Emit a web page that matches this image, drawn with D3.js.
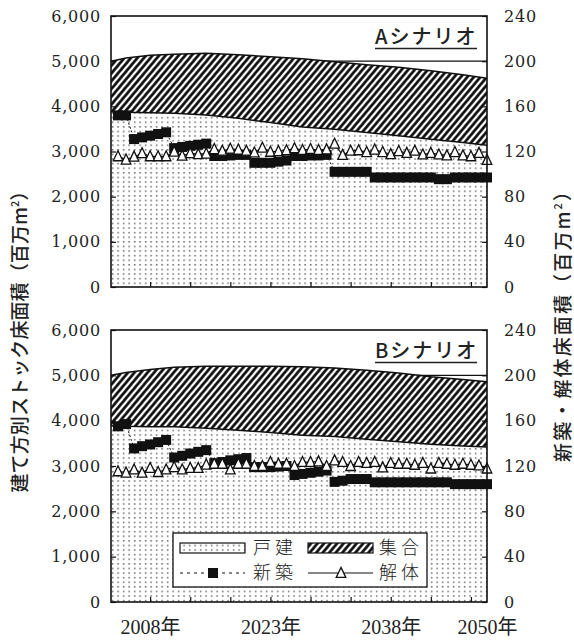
<!DOCTYPE html>
<html>
<head>
<meta charset="utf-8">
<script src="https://cdn.jsdelivr.net/npm/d3@7"></script>
<style>
  body { margin: 0; background: #fff; }
</style>
</head>
<body>
<div id="chart"></div>
<script>
// years of the annual series (new construction / demolition)
const years = d3.range(2004, 2051);

// 新築 and 解体 floor area, 百万m2 (right axis)
const newA = [152, 152, 131, 132.5, 134, 135.5, 137, 123, 124, 125, 126, 127,
  116, 116, 116.5, 117, 117, 110, 110, 110, 111, 112, 116, 116, 116.5, 116.5, 117,
  102, 102, 102, 102, 102, 97, 97, 97, 97, 97, 97, 97, 97, 95.5, 95.5,
  97, 97, 97, 97, 97];
const demoA = [115.7, 112.8, 115.4, 118.4, 115.7, 115.7, 115.7, 119.8, 116.2, 118.4, 117.6, 118.1,
  122.1, 120.6, 122.4, 121.6, 120.6, 119.1, 123.3, 119.7, 120.3, 121.0, 122.8, 121.3, 122.2, 121.3, 121.8,
  126.8, 116.9, 120.6, 121.0, 119.4, 121.6, 119.4, 117.6, 120.3, 118.7, 120.6, 117.3, 118.7, 117.3, 116.5,
  119.4, 116.5, 115.7, 118.7, 112.5];
const newB = [155, 157, 135.5, 137.5, 139, 141, 143, 127.5, 129, 131, 132.5, 134,
  122.5, 123.5, 125, 126, 127, 119, 119, 119, 119.5, 120, 112, 113, 114, 115, 116,
  106, 107, 108.5, 108.5, 108.5, 105.6, 105.6, 105.6, 105.6, 105.6, 105.6, 105.6, 105.6, 105.6, 105.6,
  104, 104, 104, 104, 104];
const demoB = [115.3, 114.1, 116.9, 114.0, 118.2, 114.6, 116.9, 119.0, 116.9, 118.2, 118.2, 121.2,
  121.9, 121.9, 116.9, 121.9, 121.9, 119.9, 119.9, 123.5, 121.9, 121.9, 119.9, 123.5, 123.5, 124.0, 119.9,
  124.9, 123.5, 119.9, 123.5, 122.6, 123.5, 118.7, 122.6, 121.9, 121.9, 121.0, 122.6, 117.7, 122.6, 121.9,
  121.0, 121.9, 121.0, 120.4, 117.7];

// stock floor area by building type, 百万m2 (left axis)
const stockYears = [2003, 2005, 2008, 2011, 2015, 2019, 2023, 2027, 2031, 2035, 2039, 2043, 2047, 2050];
const detachedA = [3880, 3870, 3860, 3845, 3810, 3735, 3640, 3540, 3495, 3420, 3350, 3270, 3200, 3140];
const collectiveA = [1120, 1200, 1270, 1310, 1365, 1405, 1460, 1515, 1490, 1500, 1515, 1520, 1500, 1480];
const detachedB = [3890, 3875, 3867, 3865, 3830, 3790, 3740, 3680, 3650, 3590, 3535, 3480, 3440, 3420];
const collectiveB = [1110, 1185, 1263, 1315, 1370, 1410, 1460, 1510, 1510, 1520, 1515, 1490, 1470, 1440];

const leftTicks = [0, 1000, 2000, 3000, 4000, 5000, 6000];
const rightTicks = [0, 40, 80, 120, 160, 200, 240];
const yearTicks = [2008, 2013, 2018, 2023, 2028, 2033, 2038, 2043, 2048];
const yearLabels = [2008, 2023, 2038, 2050];

const serif = "'DejaVu Serif', 'Liberation Serif', serif";
const jp = "'Noto Sans CJK JP', sans-serif";

const svg = d3.select("#chart").append("svg")
  .attr("width", 574)
  .attr("height", 640);

const defs = svg.append("defs");

const dots = defs.append("pattern")
  .attr("id", "dots")
  .attr("patternUnits", "userSpaceOnUse")
  .attr("width", 5.5)
  .attr("height", 4.6);
dots.append("rect").attr("width", 5.5).attr("height", 4.6).attr("fill", "#fff");
dots.append("rect").attr("x", 2).attr("y", 2).attr("width", 1.3).attr("height", 1.3).attr("fill", "#333");

const hatch = defs.append("pattern")
  .attr("id", "hatch")
  .attr("patternUnits", "userSpaceOnUse")
  .attr("width", 5)
  .attr("height", 5)
  .attr("patternTransform", "rotate(40)");
hatch.append("rect").attr("width", 5).attr("height", 5).attr("fill", "#fff");
hatch.append("line")
  .attr("x1", 2.5).attr("y1", 0).attr("x2", 2.5).attr("y2", 5)
  .attr("stroke", "#000").attr("stroke-width", 2.6);

const x = d3.scaleLinear().domain([2003, 2050]).range([110, 487]);
const left = 111, right = 487;

const tri = "M0,-5.6L4.8,4.4L-4.8,4.4Z";

const panels = [
  { name: "Aシナリオ", top: 16, bottom: 287, detached: detachedA, collective: collectiveA, built: newA, demolished: demoA, labels: false },
  { name: "Bシナリオ", top: 330, bottom: 602, detached: detachedB, collective: collectiveB, built: newB, demolished: demoB, labels: true }
];

panels.forEach(p => {
  const yL = d3.scaleLinear().domain([0, 6000]).range([p.bottom, p.top]);
  const yR = d3.scaleLinear().domain([0, 240]).range([p.bottom, p.top]);
  const g = svg.append("g");

  // line at 5,000
  g.append("line")
    .attr("x1", left).attr("x2", right)
    .attr("y1", yL(5000)).attr("y2", yL(5000))
    .attr("stroke", "#111").attr("stroke-width", 1.2);

  const rows = stockYears.map((yr, i) => ({ year: yr, detached: p.detached[i], collective: p.collective[i] }));
  const series = d3.stack().keys(["detached", "collective"])(rows);

  const area = d3.area()
    .x(d => Math.max(left, x(d.data.year)))
    .y0(d => yL(d[0]))
    .y1(d => yL(d[1]));

  g.selectAll(".layer")
    .data(series)
    .enter()
    .append("path")
    .attr("d", area)
    .attr("fill", d => d.key === "detached" ? "url(#dots)" : "url(#hatch)");

  g.selectAll(".edge")
    .data(series)
    .enter()
    .append("path")
    .attr("fill", "none")
    .attr("stroke", "#111")
    .attr("stroke-width", 1.5)
    .attr("d", d3.line().x(d => Math.max(left, x(d.data.year))).y(d => yL(d[1])));

  // 新築
  g.append("path")
    .datum(p.built)
    .attr("fill", "none")
    .attr("stroke", "#111")
    .attr("stroke-width", 1)
    .attr("stroke-dasharray", "2,2")
    .attr("d", d3.line().x((d, i) => x(years[i])).y(d => yR(d)));

  g.selectAll(".sq")
    .data(p.built)
    .enter()
    .append("rect")
    .attr("x", (d, i) => x(years[i]) - 5)
    .attr("y", d => yR(d) - 5)
    .attr("width", 10)
    .attr("height", 10)
    .attr("fill", "#111");

  // 解体
  g.append("path")
    .datum(p.demolished)
    .attr("fill", "none")
    .attr("stroke", "#111")
    .attr("stroke-width", 1.2)
    .attr("d", d3.line().x((d, i) => x(years[i])).y(d => yR(d)));

  g.selectAll(".tri")
    .data(p.demolished)
    .enter()
    .append("path")
    .attr("d", tri)
    .attr("transform", (d, i) => "translate(" + x(years[i]) + "," + yR(d) + ")")
    .attr("fill", "#fff")
    .attr("stroke", "#111")
    .attr("stroke-width", 1.3);

  // frame
  g.append("rect")
    .attr("x", left).attr("y", p.top)
    .attr("width", right - left).attr("height", p.bottom - p.top)
    .attr("fill", "none").attr("stroke", "#111").attr("stroke-width", 1.6);

  // axes
  const axL = g.append("g")
    .attr("transform", "translate(" + left + ",0)")
    .call(d3.axisLeft(yL).tickValues(leftTicks).tickSizeInner(-5).tickSizeOuter(0).tickPadding(10).tickFormat(d3.format(",")));
  const axR = g.append("g")
    .attr("transform", "translate(" + right + ",0)")
    .call(d3.axisRight(yR).tickValues(rightTicks).tickSizeInner(-5).tickSizeOuter(0).tickPadding(17));
  const axB = g.append("g")
    .attr("transform", "translate(0," + p.bottom + ")")
    .call(d3.axisBottom(x).tickValues(yearTicks).tickSizeInner(-5).tickSizeOuter(0).tickFormat(""));

  [axL, axR, axB].forEach(a => {
    a.attr("font-family", null).attr("font-size", null);
    a.select(".domain").remove();
    a.selectAll(".tick line").attr("stroke", "#111").attr("stroke-width", 1.2);
    a.selectAll("text")
      .attr("fill", "#222")
      .attr("font-family", serif)
      .attr("font-size", 16)
      .attr("letter-spacing", 0.8);
  });

  if (p.labels) {
    const axY = g.append("g")
      .attr("transform", "translate(0," + p.bottom + ")")
      .call(d3.axisBottom(x).tickValues(yearLabels).tickSize(0).tickPadding(18).tickFormat(d => d + "年"));
    axY.attr("font-family", null).attr("font-size", null);
    axY.select(".domain").remove();
    axY.selectAll("text")
      .attr("fill", "#222")
      .attr("font-family", "'Liberation Serif', 'Noto Sans CJK JP', serif")
      .attr("font-size", 20);
  }

  // scenario label
  g.append("text")
    .attr("x", 375)
    .attr("y", p.top + 28)
    .attr("fill", "#222")
    .style("font-family", jp)
    .style("font-size", "20px")
    .style("font-weight", 500)
    .style("letter-spacing", "2px")
    .text(p.name);
  g.append("line")
    .attr("x1", 375).attr("x2", 477)
    .attr("y1", p.top + 32.5).attr("y2", p.top + 32.5)
    .attr("stroke", "#222").attr("stroke-width", 1.5);

  if (p.labels) {
    const lg = g.append("g");
    lg.append("rect")
      .attr("x", 173).attr("y", 533).attr("width", 254).attr("height", 54)
      .attr("fill", "#fff").attr("stroke", "#111").attr("stroke-width", 1.3);
    lg.append("rect").attr("x", 180).attr("y", 543).attr("width", 65).attr("height", 10)
      .attr("fill", "url(#dots)").attr("stroke", "#111").attr("stroke-width", 1.2);
    lg.append("rect").attr("x", 308).attr("y", 543).attr("width", 65).attr("height", 10)
      .attr("fill", "url(#hatch)").attr("stroke", "#111").attr("stroke-width", 1.2);
    lg.append("line").attr("x1", 180).attr("x2", 245).attr("y1", 573).attr("y2", 573)
      .attr("stroke", "#111").attr("stroke-width", 1).attr("stroke-dasharray", "3,4");
    lg.append("rect").attr("x", 208).attr("y", 568).attr("width", 10).attr("height", 10).attr("fill", "#111");
    lg.append("line").attr("x1", 308).attr("x2", 373).attr("y1", 573).attr("y2", 573)
      .attr("stroke", "#111").attr("stroke-width", 1.2);
    lg.append("path").attr("d", tri).attr("transform", "translate(341,573)")
      .attr("fill", "#fff").attr("stroke", "#111").attr("stroke-width", 1.3);
    const items = [["戸建", 253, 548], ["集合", 379, 548], ["新築", 253, 573], ["解体", 379, 573]];
    lg.selectAll(".lt")
      .data(items)
      .enter()
      .append("text")
      .attr("x", d => d[1])
      .attr("y", d => d[2])
      .attr("dy", "0.36em")
      .attr("fill", "#222")
      .style("font-family", jp)
      .style("font-size", "18px")
      .style("font-weight", 300)
      .style("letter-spacing", "4px")
      .text(d => d[0]);
  }
});

// axis titles
function title(cx, cy, main, len) {
  const t = svg.append("text")
    .attr("transform", "translate(" + cx + "," + cy + ") rotate(-90)")
    .attr("text-anchor", "middle")
    .attr("dy", "0.35em")
    .attr("fill", "#222")
    .attr("textLength", len)
    .attr("lengthAdjust", "spacing")
    .style("font-family", jp)
    .style("font-size", "19px")
    .style("font-weight", 500);
  t.append("tspan").text(main + "（百万m");
  t.append("tspan").attr("dy", -8).style("font-size", "11px").text("2");
  t.append("tspan").attr("dy", 8).text("）");
}
title(20, 337, "建て方別ストック床面積", 311);
title(563, 322, "新築・解体床面積", 280);
</script>
</body>
</html>
